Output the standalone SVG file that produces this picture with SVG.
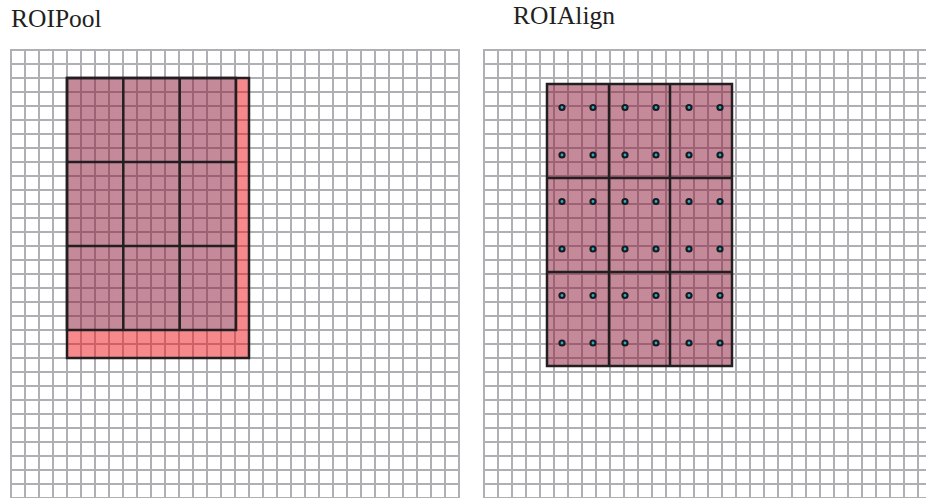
<svg xmlns="http://www.w3.org/2000/svg" width="926" height="498" viewBox="0 0 926 498">
<defs>
<style>
.t{font-family:"Liberation Serif","Times New Roman",serif;font-size:25.5px;fill:#231f20}
.g{stroke:#b0b0b4;stroke-width:2;fill:none}
.mv{fill:#891535;fill-opacity:0.5}
.pk{fill:#eb1319;fill-opacity:0.5}
.bd{stroke:#231f20;stroke-width:2.5;fill:none}
.dot{fill:#1a1a1a}
.dc{fill:#27a8d8}
</style>
<pattern id="gl" patternUnits="userSpaceOnUse" x="10" y="49" width="14" height="14">
<rect x="0" y="0" width="14" height="2" fill="#b0b0b4"/>
<rect x="0" y="0" width="2" height="14" fill="#b0b0b4"/>
</pattern>
<pattern id="gr" patternUnits="userSpaceOnUse" x="483" y="49" width="14" height="14">
<rect x="0" y="0" width="14" height="2" fill="#b0b0b4"/>
<rect x="0" y="0" width="2" height="14" fill="#b0b0b4"/>
</pattern>
<g id="d">
<circle r="3.6" class="dot"/>
<circle r="1.4" class="dc"/>
</g>
</defs>
<rect width="926" height="498" fill="#ffffff"/>
<g id="roipool">
<text class="t" x="11" y="27">ROIPool</text>
<rect x="10" y="49" width="450" height="449" fill="url(#gl)"/>
<path d="M459 50V498" class="g"/>
<path class="pk" d="M236 78H249V358H67V330H236Z"/>
<rect class="mv" x="67" y="78" width="169" height="252"/>
<rect class="bd" x="67" y="78" width="182" height="280"/>
<path class="bd" d="M67 78H236V330H67ZM123.3 78V330M179.7 78V330M67 162H236M67 246H236"/>
</g>
<g id="roialign">
<text class="t" x="513" y="24">ROIAlign</text>
<rect x="483" y="49" width="443" height="449" fill="url(#gr)"/>
<rect class="mv" x="547" y="84" width="185" height="282"/>
<path class="bd" d="M547 84H732V366H547ZM609 84V366M670 84V366M547 178H732M547 272H732"/>
<g id="dots">
<use href="#d" x="562" y="107.5"/><use href="#d" x="593" y="107.5"/><use href="#d" x="625" y="107.5"/><use href="#d" x="656" y="107.5"/><use href="#d" x="689" y="107.5"/><use href="#d" x="720" y="107.5"/>
<use href="#d" x="562" y="155"/><use href="#d" x="593" y="155"/><use href="#d" x="625" y="155"/><use href="#d" x="656" y="155"/><use href="#d" x="689" y="155"/><use href="#d" x="720" y="155"/>
<use href="#d" x="562" y="201.5"/><use href="#d" x="593" y="201.5"/><use href="#d" x="625" y="201.5"/><use href="#d" x="656" y="201.5"/><use href="#d" x="689" y="201.5"/><use href="#d" x="720" y="201.5"/>
<use href="#d" x="562" y="249"/><use href="#d" x="593" y="249"/><use href="#d" x="625" y="249"/><use href="#d" x="656" y="249"/><use href="#d" x="689" y="249"/><use href="#d" x="720" y="249"/>
<use href="#d" x="562" y="295.5"/><use href="#d" x="593" y="295.5"/><use href="#d" x="625" y="295.5"/><use href="#d" x="656" y="295.5"/><use href="#d" x="689" y="295.5"/><use href="#d" x="720" y="295.5"/>
<use href="#d" x="562" y="343"/><use href="#d" x="593" y="343"/><use href="#d" x="625" y="343"/><use href="#d" x="656" y="343"/><use href="#d" x="689" y="343"/><use href="#d" x="720" y="343"/>
</g>
</g>
</svg>
